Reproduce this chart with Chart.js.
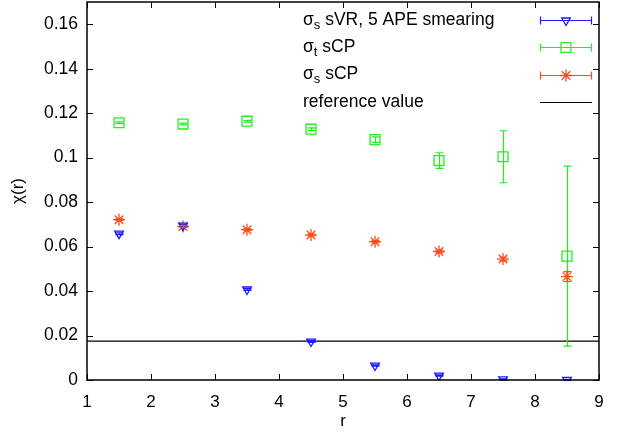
<!DOCTYPE html>
<html>
<head>
<meta charset="utf-8">
<script src="https://cdn.jsdelivr.net/npm/chart.js@4/dist/chart.umd.min.js"></script>
<style>
  html, body { margin: 0; padding: 0; background: #fff; }
  #wrap { width: 619px; height: 434px; }
</style>
</head>
<body>
<div id="wrap"><canvas id="chart" width="619" height="434"></canvas></div>
<script>
// valores
const rValues = [1.5, 2.5, 3.5, 4.5, 5.5, 6.5, 7.5, 8.5];
const sigmaSVR = [0.0658, 0.0694, 0.0407, 0.0173, 0.0065, 0.0020, 0.0003, 0.0000];
const sigmaSVRErr = [0.0004, 0.0004, 0.0004, 0.0004, 0.0003, 0.0003, 0.0002, 0.0002];
const sigmaTsCP = [0.1157, 0.1151, 0.1164, 0.1128, 0.1081, 0.0987, 0.1004, 0.0557];
const sigmaTsCPErr = [0.0004, 0.0004, 0.0004, 0.0006, 0.0012, 0.0035, 0.0117, 0.0405];
const sigmaSsCP = [0.0721, 0.0690, 0.0676, 0.0652, 0.0622, 0.0578, 0.0544, 0.0465];
const sigmaSsCPErr = [0.0004, 0.0004, 0.0004, 0.0004, 0.0005, 0.0006, 0.0008, 0.0022];
const referenceValue = 0.0175;
const xTicks = [1, 2, 3, 4, 5, 6, 7, 8, 9];
const yTicks = [0, 0.02, 0.04, 0.06, 0.08, 0.1, 0.12, 0.14, 0.16];

const FONT = '"Liberation Sans", Arial, Helvetica, sans-serif';

function toPoints(ys, errs) {
    return rValues.map((r, i) => ({ x: r, y: ys[i], err: errs[i] }));
}

// barras de erro
const errorBars = {
    id: 'errorBars',
    afterDatasetsDraw(chart) {
        const ctx = chart.ctx;
        const xs = chart.scales.x, ys = chart.scales.y;
        chart.data.datasets.forEach(ds => {
            if (!ds.errorBars) return;
            ctx.save();
            ctx.strokeStyle = ds.borderColor;
            ctx.lineWidth = 1.2;
            ds.data.forEach(p => {
                const px = Math.round(xs.getPixelForValue(p.x)) + 0.5;
                const top = ys.getPixelForValue(p.y + p.err);
                const bot = ys.getPixelForValue(p.y - p.err);
                ctx.beginPath();
                ctx.moveTo(px, top); ctx.lineTo(px, bot);
                ctx.moveTo(px - 4, top); ctx.lineTo(px + 4, top);
                ctx.moveTo(px - 4, bot); ctx.lineTo(px + 4, bot);
                ctx.stroke();
            });
            ctx.restore();
        });
    }
};

// moldura e marcas internas (estilo gnuplot)
const frame = {
    id: 'frame',
    afterDraw(chart) {
        const ctx = chart.ctx;
        const a = chart.chartArea;
        const xs = chart.scales.x, ys = chart.scales.y;
        ctx.save();
        ctx.strokeStyle = '#000';
        ctx.lineWidth = 1;
        ctx.beginPath();
        xTicks.forEach(v => {
            const px = Math.round(xs.getPixelForValue(v)) + 0.5;
            ctx.moveTo(px, a.bottom); ctx.lineTo(px, a.bottom - 6);
            ctx.moveTo(px, a.top); ctx.lineTo(px, a.top + 6);
        });
        yTicks.forEach(v => {
            const py = Math.round(ys.getPixelForValue(v)) + 0.5;
            ctx.moveTo(a.left, py); ctx.lineTo(a.left + 6, py);
            ctx.moveTo(a.right, py); ctx.lineTo(a.right - 6, py);
        });
        ctx.stroke();
        ctx.lineWidth = 1.5;
        ctx.strokeRect(a.left, a.top, a.right - a.left, a.bottom - a.top);
        ctx.restore();
    }
};

// legenda com subscritos
const legendBox = {
    id: 'legendBox',
    afterDraw(chart) {
        const ctx = chart.ctx;
        const entries = [
            { main: 'σ', sub: 's', rest: ' sVR, 5 APE smearing', ds: 0 },
            { main: 'σ', sub: 't', rest: ' sCP', ds: 1 },
            { main: 'σ', sub: 's', rest: ' sCP', ds: 2 },
            { main: '', sub: '', rest: 'reference value', ds: 3 }
        ];
        const x0 = 303, lx1 = 540, lx2 = 592;
        ctx.save();
        ctx.textBaseline = 'middle';
        entries.forEach((e, i) => {
            const y = 20 + i * 27.3;
            let x = x0;
            ctx.fillStyle = '#000';
            ctx.font = '17.5px ' + FONT;
            if (e.main) {
                ctx.fillText(e.main, x, y);
                x += ctx.measureText(e.main).width;
                ctx.font = '13px ' + FONT;
                ctx.fillText(e.sub, x, y + 5);
                x += ctx.measureText(e.sub).width;
                ctx.font = '17.5px ' + FONT;
            }
            ctx.fillText(e.rest, x, y);
            const ds = chart.data.datasets[e.ds];
            const ly = Math.round(y) + 0.5;
            ctx.strokeStyle = ds.borderColor;
            ctx.lineWidth = 1.2;
            ctx.beginPath();
            ctx.moveTo(lx1, ly); ctx.lineTo(lx2, ly);
            if (e.ds < 3) {
                ctx.moveTo(lx1 + 0.5, ly - 4); ctx.lineTo(lx1 + 0.5, ly + 4);
                ctx.moveTo(lx2 - 0.5, ly - 4); ctx.lineTo(lx2 - 0.5, ly + 4);
            }
            ctx.stroke();
            if (e.ds < 3) {
                ctx.fillStyle = 'rgba(0,0,0,0)';
                ctx.lineWidth = ds.borderWidth;
                Chart.helpers.drawPoint(ctx, {
                    pointStyle: ds.pointStyle,
                    radius: ds.pointRadius,
                    rotation: ds.rotation || 0,
                    borderWidth: ds.borderWidth
                }, (lx1 + lx2) / 2, ly);
            }
        });
        ctx.restore();
    }
};

const blue = '#1a1aff';
const green = '#22ee22';
const red = '#ff4a1a';

new Chart(document.getElementById('chart'), {
    type: 'scatter',
    data: {
        datasets: [
            {
                label: 'σs sVR, 5 APE smearing',
                data: toPoints(sigmaSVR, sigmaSVRErr),
                borderColor: blue,
                backgroundColor: 'rgba(0,0,0,0)',
                pointStyle: 'triangle',
                rotation: 180,
                pointRadius: 5,
                borderWidth: 1.3,
                errorBars: true
            },
            {
                label: 'σt sCP',
                data: toPoints(sigmaTsCP, sigmaTsCPErr),
                borderColor: green,
                backgroundColor: 'rgba(0,0,0,0)',
                pointStyle: 'rect',
                pointRadius: 7,
                borderWidth: 1.3,
                errorBars: true
            },
            {
                label: 'σs sCP',
                data: toPoints(sigmaSsCP, sigmaSsCPErr),
                borderColor: red,
                backgroundColor: 'rgba(0,0,0,0)',
                pointStyle: 'star',
                pointRadius: 6,
                borderWidth: 1.3,
                errorBars: true
            },
            {
                label: 'reference value',
                type: 'line',
                data: [{ x: 1, y: referenceValue }, { x: 9, y: referenceValue }],
                borderColor: '#000',
                borderWidth: 1.2,
                pointRadius: 0,
                fill: false
            }
        ]
    },
    options: {
        responsive: false,
        animation: false,
        layout: { autoPadding: false, padding: { top: 2, right: 20, left: 0, bottom: 0 } },
        plugins: {
            legend: { display: false },
            tooltip: { enabled: false }
        },
        scales: {
            x: {
                type: 'linear',
                min: 1,
                max: 9,
                afterBuildTicks: s => { s.ticks = xTicks.map(v => ({ value: v })); },
                afterFit: s => { s.height = 54; s.paddingLeft = 0; s.paddingRight = 0; },
                grid: { display: false, drawTicks: false },
                border: { display: false },
                ticks: {
                    color: '#000',
                    font: { size: 17, family: FONT },
                    padding: 12,
                    maxRotation: 0,
                    callback: v => String(v)
                },
                title: {
                    display: true,
                    text: 'r',
                    color: '#000',
                    font: { size: 17, family: FONT },
                    padding: { top: 0, bottom: 2 }
                }
            },
            y: {
                type: 'linear',
                min: 0,
                max: 0.17,
                afterBuildTicks: s => { s.ticks = yTicks.map(v => ({ value: v })); },
                afterFit: s => { s.width = 87; s.paddingTop = 0; s.paddingBottom = 0; },
                grid: { display: false, drawTicks: false },
                border: { display: false },
                ticks: {
                    color: '#000',
                    font: { size: 17.5, family: FONT },
                    padding: 9,
                    callback: v => String(Math.round(v * 100) / 100)
                },
                title: {
                    display: true,
                    text: 'χ(r)',
                    color: '#000',
                    font: { size: 17, family: FONT },
                    padding: { top: 8, bottom: 0 }
                }
            }
        }
    },
    plugins: [errorBars, frame, legendBox]
});
</script>
</body>
</html>
